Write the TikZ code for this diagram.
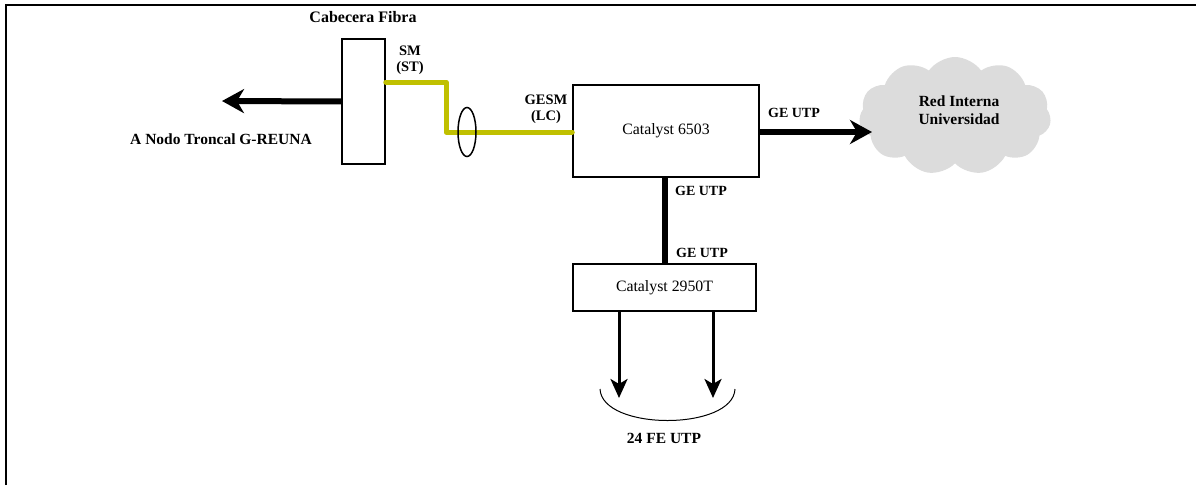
\documentclass[tikz,border=0pt]{standalone}
\usepackage{fontspec}
\setmainfont{Liberation Serif}
\usetikzlibrary{arrows.meta,shapes.symbols,shapes.geometric}
\definecolor{fiber}{RGB}{192,192,0}
\definecolor{cloudgray}{RGB}{220,220,220}
\begin{document}
\begin{tikzpicture}[x=1pt,y=-1pt,
  box/.style={draw,line width=1.5pt,inner sep=0pt,font=\fontsize{15.8}{18}\selectfont},
  lbl/.style={font=\bfseries\fontsize{14}{15}\selectfont,inner sep=0pt,align=center},
  biglbl/.style={font=\bfseries\fontsize{15.5}{18}\selectfont,inner sep=0pt,align=center},
  thickarrow/.style={line width=6pt,-{Stealth[length=22pt,width=24pt,inset=7pt]}},
  thinarrow/.style={line width=3pt,-{Stealth[length=19pt,width=17pt,inset=5pt]}},
  fiberline/.style={draw=fiber,line width=5pt,line join=round,line cap=round}]
\useasboundingbox (0,0) rectangle (1196,485);
% frame (top and left edges visible)
\draw[line width=2pt] (6,485) -- (6,5) -- (1196,5);
% nodes
\node[box,minimum width=43pt,minimum height=125pt] (cab) at (363.5,101.5) {};
\node[lbl,font=\bfseries\fontsize{16}{18}\selectfont] (cablbl) at (363,17) {Cabecera Fibra};
\node[box,minimum width=186pt,minimum height=92pt] (c6503) at (666,131) {Catalyst 6503};
\node[box,minimum width=183pt,minimum height=47pt] (c2950) at (664.5,287.5) {Catalyst 2950T};
\node[cloud,cloud puffs=11,cloud puff arc=110,aspect=1.7,fill=cloudgray,minimum width=192pt,minimum height=118pt,inner sep=0pt] (cloud) at (955,116) {};
\node[biglbl] (cloudtxt) at (959,110) {Red Interna\\Universidad};
% left arrow
\coordinate (lefttip) at (222,101);
\draw[thickarrow] (cab.center -| cab.west) ++(1,0) -- (lefttip);
\node[biglbl] (nodolbl) at (221,139) {A Nodo Troncal G-REUNA};
% fiber
\coordinate (f1) at (446,82);
\coordinate (f2) at (446,132);
\draw[fiberline] (cab.east |- f1) -- (f1) -- (f2) -- (c6503.west |- f2);
\node[draw,line width=1.5pt,ellipse,minimum width=18pt,minimum height=49pt,inner sep=0pt] (ell) at (467,132) {};
\node[lbl,font=\bfseries\fontsize{14.5}{16}\selectfont] (smlbl) at (410,60) {SM\\(ST)};
\node[lbl,font=\bfseries\fontsize{14.5}{16}\selectfont] (gesmlbl) at (546,109) {GESM\\(LC)};
% right arrow to cloud
\coordinate (righttip) at (872,132);
\draw[thickarrow] (c6503.east |- righttip) -- (righttip);
\node[lbl] (geutp1) at (794,113) {GE UTP};
% vertical link
\draw[line width=6pt] (c6503.south -| 665,0) -- (c2950.north -| 665,0);
\node[lbl] (geutp2) at (701,191) {GE UTP};
\node[lbl] (geutp3) at (702,253) {GE UTP};
% down arrows
\coordinate (d1) at (619,398);
\coordinate (d2) at (713,398);
\draw[thinarrow] (c2950.south -| d1) -- (d1);
\draw[thinarrow] (c2950.south -| d2) -- (d2);
\coordinate (a1) at (600,389);
\coordinate (a2) at (735,389);
\draw[line width=1pt] (a1) .. controls (602,431) and (733,431) .. (a2);
\node[biglbl] (felbl) at (664,438) {24 FE UTP};
\end{tikzpicture}
\end{document}
